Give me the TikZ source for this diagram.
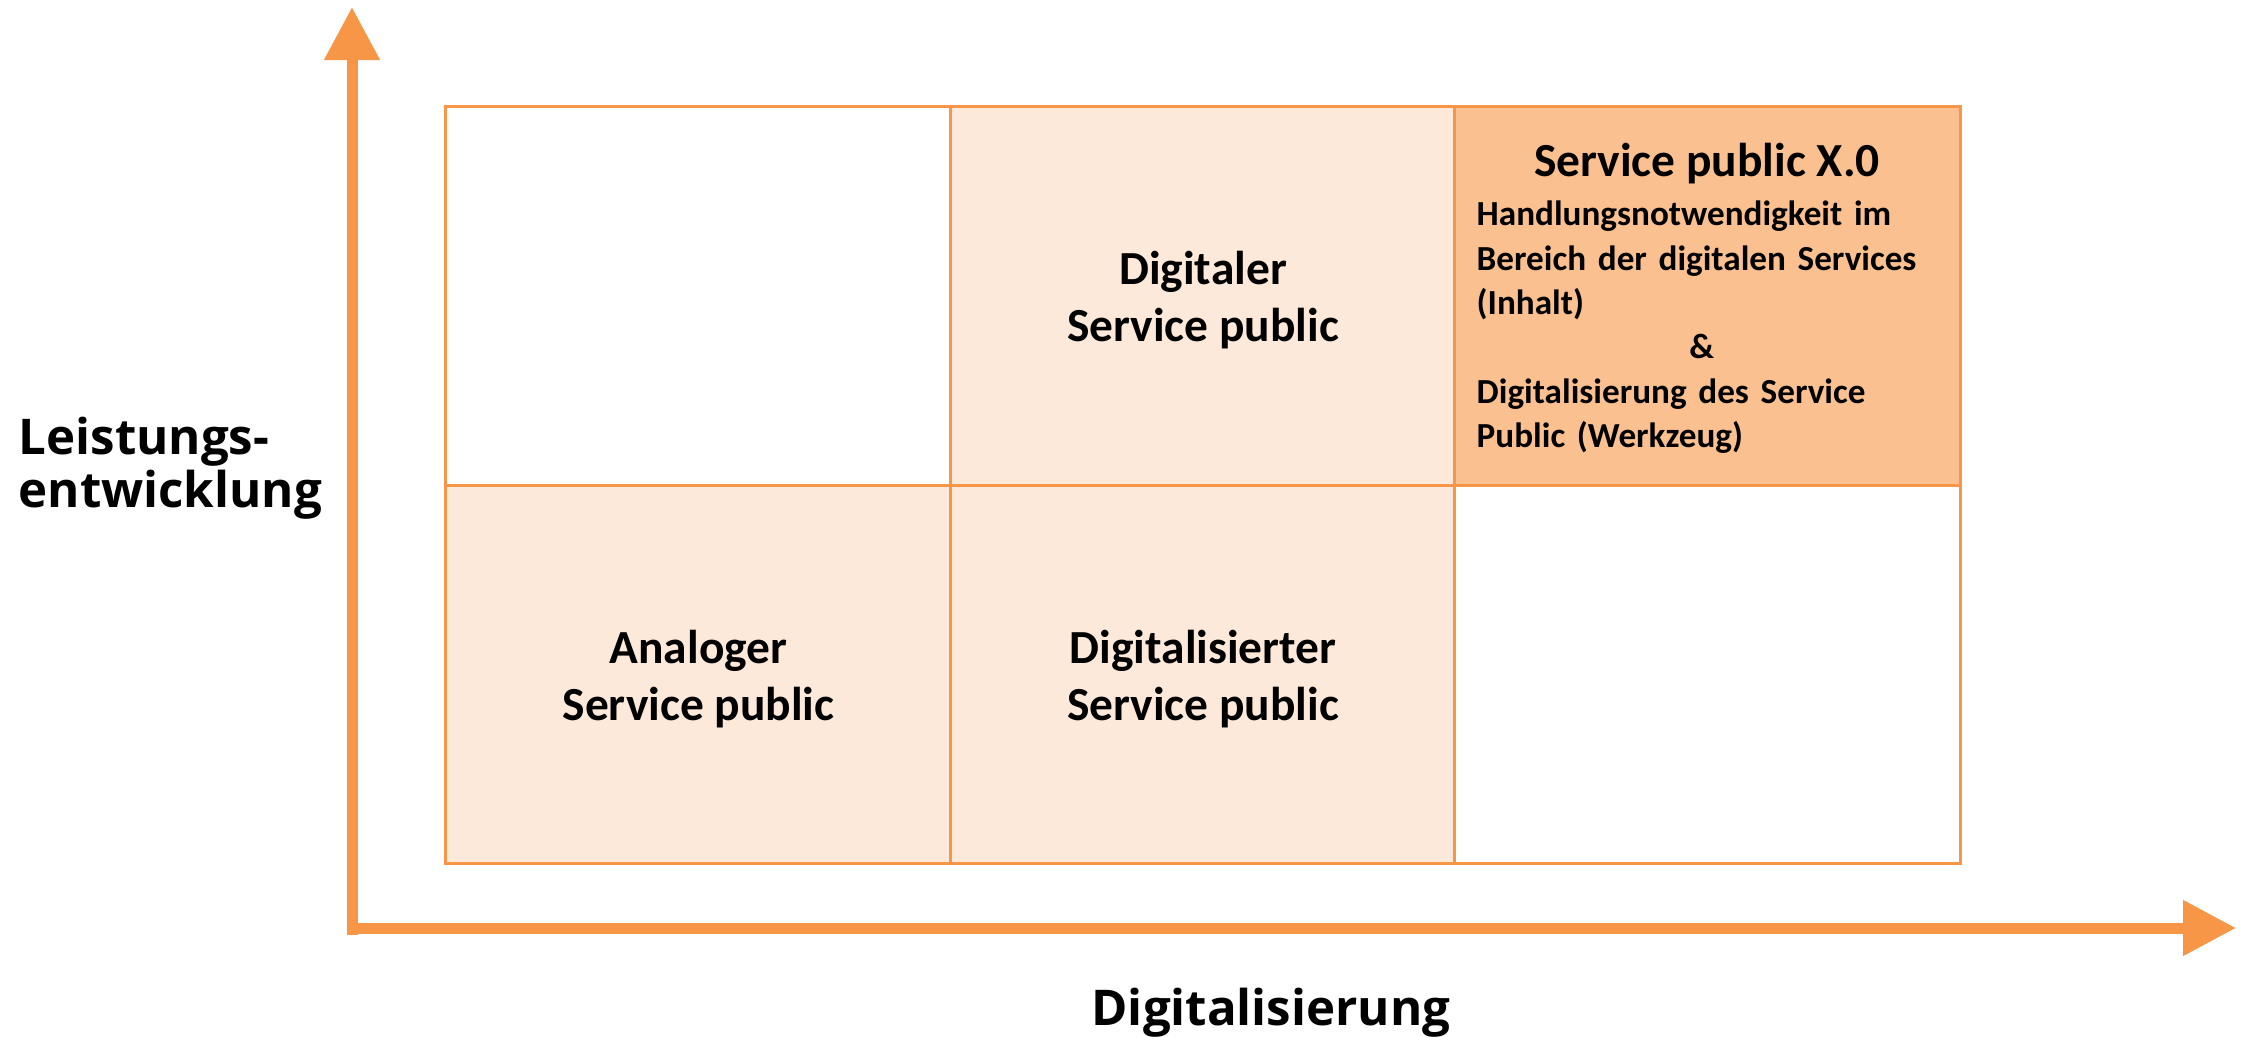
\documentclass[tikz,border=0pt]{standalone}
\usepackage{fontspec}
\setmainfont{Carlito}
\newfontfamily\axisfont{Open Sans}
\usetikzlibrary{arrows.meta}
\definecolor{axisorange}{HTML}{F79646}
\definecolor{lightfill}{HTML}{FDE9D9}
\definecolor{strongfill}{HTML}{FAC090}
\begin{document}
\begin{tikzpicture}[x=0.01cm,y=-0.01cm,
  cell/.style={draw=axisorange, line width=0.03cm, rectangle, inner sep=0,
    minimum width=5.05cm, minimum height=3.78cm},
  axis/.style={draw=axisorange, line width=0.11cm,
    -{Triangle[length=0.53cm,width=0.53cm]}},
  axislabel/.style={inner sep=0, font=\axisfont\bfseries\fontsize{14}{15.1}\selectfont},
  bigtext/.style={inner sep=0, align=center, font=\bfseries\fontsize{13.5}{16.2}\selectfont},
  smalltext/.style={inner sep=0, font=\bfseries\fontsize{10}{12.6}\selectfont}]
\useasboundingbox (0,0) rectangle (2249,1037);
% cells
\node[cell, fill=white] (c11) at (698.5,296) {};
\node[cell, fill=lightfill] (c12) at (1203,296) {};
\node[cell, fill=strongfill] (c13) at (1707.5,296) {};
\node[cell, fill=lightfill] (c21) at (698.5,674.5) {};
\node[cell, fill=lightfill] (c22) at (1203,674.5) {};
\node[cell, fill=white] (c23) at (1707.5,674.5) {};
% cell texts
\node[bigtext] (t12) at (1203,300) {Digitaler\\Service public};
\node[bigtext] (t21) at (698.5,679) {Analoger\\Service public};
\node[bigtext] (t22) at (1203,679) {Digitalisierter\\Service public};
% X.0 cell text
\node[bigtext, anchor=base] (xtitle) at (1707,177) {Service public X.0};
\node[smalltext, anchor=base west, text width=4.7cm, align=left] (xbody) at (1476,226)
  {Handlungsnotwendigkeit im\\Bereich der digitalen Services\\(Inhalt)\\\makebox[4.5cm]{\&}\\Digitalisierung des Service\\Public (Werkzeug)};
% axes
\coordinate (yorigin) at (352,935);
\coordinate (ytip) at (352,7);
\coordinate (xorigin) at (347,928);
\coordinate (xtip) at (2236,928);
\draw[axis] (yorigin) -- (ytip);
\draw[axis] (xorigin) -- (xtip);
% axis labels
\node[axislabel, anchor=base west, align=left] (ylabel) at (18,508) {Leistungs-\\entwicklung};
\node[axislabel, anchor=base] (xlabel) at (1271,1025) {Digitalisierung};
\end{tikzpicture}
\end{document}
